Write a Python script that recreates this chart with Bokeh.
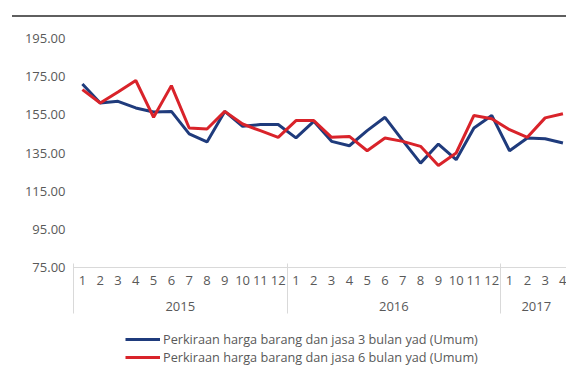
import numpy as np
from bokeh.plotting import figure
from bokeh.models import (Range1d, LinearAxis, FixedTicker, NumeralTickFormatter,
                          Legend, LegendItem, Div, ColumnDataSource)
from bokeh.layouts import column
from bokeh.embed import file_html
from bokeh.resources import INLINE

months = [1, 2, 3, 4, 5, 6, 7, 8, 9, 10, 11, 12,
          1, 2, 3, 4, 5, 6, 7, 8, 9, 10, 11, 12,
          1, 2, 3, 4]
years = ["2015"] * 12 + ["2016"] * 12 + ["2017"] * 4
harga_3 = [171.2, 161.2, 162.1, 158.6, 156.5, 156.8, 145.0, 140.8, 156.8, 149.0, 149.9, 149.9,
           142.9, 151.6, 141.1, 138.8, 146.7, 153.7, 141.5, 129.7, 139.7, 131.5, 148.1, 154.7,
           136.2, 142.9, 142.5, 140.2]
harga_6 = [168.2, 161.2, 167.0, 173.0, 153.7, 170.3, 148.1, 147.6, 156.8, 150.2, 146.7, 143.2,
           152.0, 152.0, 143.2, 143.7, 136.2, 142.9, 141.1, 138.5, 128.5, 135.0, 154.7, 153.0,
           147.2, 143.2, 153.4, 155.6]
label_3 = "Perkiraan harga barang dan jasa 3 bulan yad (Umum)"
label_6 = "Perkiraan harga barang dan jasa 6 bulan yad (Umum)"
y_ticks = [75, 95, 115, 135, 155, 175, 195]

FONT = "Open Sans"
FS = "13px"
GRAY = "#595959"
AX = "#d9d9d9"
BLUE = "#1f3b7c"
RED = "#d9232a"
W = 566

idx = np.arange(len(months))
src = ColumnDataSource(dict(x=idx, h3=harga_3, h6=harga_6))

p = figure(width=W, height=307, output_backend="svg", toolbar_location=None,
           x_range=Range1d(-0.5, 27.2), y_range=Range1d(75, 195),
           x_axis_location=None, min_border_left=73, min_border_right=0,
           min_border_top=21, min_border_bottom=57)
p.outline_line_color = None
p.xgrid.visible = False
p.ygrid.visible = False

# y axis
yax = p.yaxis[0]
yax.ticker = FixedTicker(ticks=y_ticks)
yax.formatter = NumeralTickFormatter(format="0.00")
yax.axis_line_color = None
yax.major_tick_line_color = None
yax.minor_tick_line_color = None
yax.major_tick_out = 0
yax.major_label_standoff = 8
yax.major_label_text_color = GRAY
yax.major_label_text_font = FONT
yax.major_label_text_font_size = FS

bounds = [-0.5] + [i - 0.5 for i in range(1, len(years)) if years[i] != years[i - 1]]

# month axis
m_ax = LinearAxis(ticker=FixedTicker(ticks=list(idx)),
                  major_label_overrides={int(i): str(m) for i, m in zip(idx, months)})
m_ax.axis_line_color = AX
m_ax.major_tick_line_color = None
m_ax.minor_tick_line_color = None
m_ax.major_tick_out = 0
m_ax.major_label_standoff = 8
m_ax.major_label_text_color = GRAY
m_ax.major_label_text_font = FONT
m_ax.major_label_text_font_size = FS
p.add_layout(m_ax, "below")

# year axis (group separators drawn upward as minor ticks)
uy = sorted(set(years))
centers = [float(np.mean([i for i, y in enumerate(years) if y == yr])) for yr in uy]
y_ax = LinearAxis(ticker=FixedTicker(ticks=centers, minor_ticks=bounds),
                  major_label_overrides={c: yr for c, yr in zip(centers, uy)})
y_ax.axis_line_color = None
y_ax.major_tick_line_color = None
y_ax.major_tick_out = 0
y_ax.minor_tick_line_color = AX
y_ax.minor_tick_in = 24
y_ax.minor_tick_out = 0
y_ax.major_label_standoff = 14
y_ax.major_label_text_color = GRAY
y_ax.major_label_text_font = FONT
y_ax.major_label_text_font_size = FS
p.add_layout(y_ax, "below")

# separator continuation below the year labels
s_ax = LinearAxis(ticker=FixedTicker(ticks=bounds),
                  major_label_overrides={b: " " for b in bounds})
s_ax.axis_line_color = None
s_ax.major_tick_line_color = AX
s_ax.major_tick_in = 31
s_ax.major_tick_out = 0
s_ax.minor_tick_line_color = None
s_ax.major_label_standoff = 0
s_ax.major_label_text_font_size = "1px"
p.add_layout(s_ax, "below")

p.line("x", "h3", source=src, line_color=BLUE, line_width=3)
p.line("x", "h6", source=src, line_color=RED, line_width=3)

# legend strip (series drawn out of view; only the legend shows)
pl = figure(width=W, height=42, output_backend="svg", toolbar_location=None,
            x_range=Range1d(0, 1), y_range=Range1d(0, 1),
            x_axis_location=None, y_axis_location=None,
            min_border_left=73, min_border_right=0, min_border_top=0, min_border_bottom=0)
pl.outline_line_color = None
pl.xgrid.visible = False
pl.ygrid.visible = False
k3 = pl.line("x", "h3", source=src, line_color=BLUE, line_width=3)
k6 = pl.line("x", "h6", source=src, line_color=RED, line_width=3)
legend = Legend(items=[LegendItem(label=label_3, renderers=[k3]),
                       LegendItem(label=label_6, renderers=[k6])],
                location=(52, 0), orientation="vertical")
legend.border_line_color = None
legend.background_fill_alpha = 0
legend.padding = 0
legend.margin = 0
legend.spacing = 0
legend.glyph_width = 35
legend.glyph_height = 14
legend.label_height = 14
legend.label_standoff = 3
legend.label_text_font = FONT
legend.label_text_font_size = "12.7px"
legend.label_text_color = GRAY
pl.add_layout(legend, "center")

top = Div(text='<div style="height:2px;margin-top:5px;margin-left:7px;background:#5f5f5f;width:559px"></div>',
          width=W, height=7)
lay = column(top, p, pl, spacing=0)

open("out.html", "w").write(file_html(lay, INLINE))
